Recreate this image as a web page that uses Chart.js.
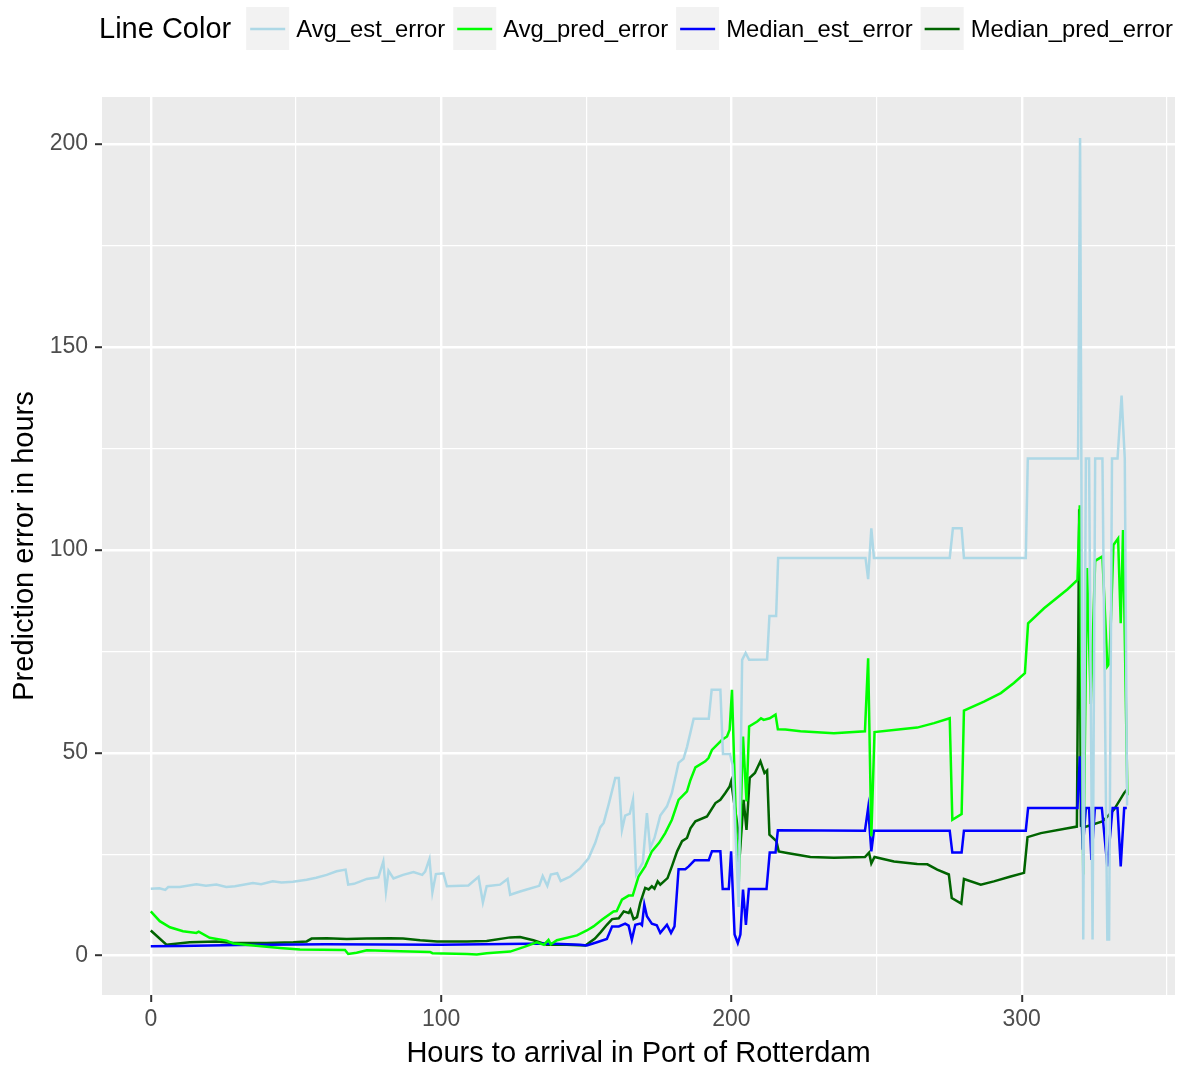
<!DOCTYPE html>
<html>
<head>
<meta charset="utf-8">
<script src="https://cdn.jsdelivr.net/npm/chart.js@4.4.1/dist/chart.umd.min.js"></script>
<style>
  html, body { margin:0; padding:0; background:#fff; }
  #wrap { width:1179px; height:1066px; position:relative; }
</style>
</head>
<body>
<div id="wrap"><canvas id="errChart"></canvas></div>
<script>
/* === DATA === */
const seriesNames = ["Avg_est_error", "Avg_pred_error", "Median_est_error", "Median_pred_error"];
const seriesColors = ["#add8e6", "#00ff00", "#0000ff", "#006400"];

const avgEstHours = [0,3,5,6,10,15.7,19,22.6,26,29,35.2,38,42,45,49,53.7,57,60.6,64,67.1,68,70,74.4,78.4,80.1,81,81.9,83.6,86.9,90.5,93.5,94.5,96,97,98.2,100.8,102,109.4,112.9,114.4,115.7,120.3,122.9,123.8,127.2,129.5,133.8,135,136.6,137.8,140,141.2,144.5,147.9,150.8,153.1,154.8,156,157.7,160,161.2,162.3,163.4,165,166.1,167.2,169.5,170.9,172,173.5,175.5,177.8,179.5,181.8,183.5,184.7,187,192.2,193.2,196.2,197.1,199.5,200.4,202.5,203.7,204.9,206.1,212.3,213.1,215.4,216.1,246.2,247.1,248.2,249.1,275.2,276.3,279.3,280.1,301.4,302.1,319.4,320.1,321.2,322.1,323.2,324.4,325.3,327.8,329.5,330.1,331.1,333,334.4,335.5,336.3];
const avgEstValues = [16.5,16.6,16.2,16.9,16.9,17.6,17.2,17.5,16.9,17.1,17.9,17.6,18.3,18.0,18.2,18.7,19.2,19.9,20.8,21.2,17.5,17.7,18.9,19.3,23.2,15.8,20.9,19.0,19.9,20.6,19.9,20.7,23.8,15.6,20.1,20.3,17.1,17.3,19.4,13.1,17.1,17.5,18.9,15.0,15.8,16.3,17.2,19.6,17.2,20.0,20.3,18.4,19.5,21.5,24.0,27.8,31.6,32.7,37.2,43.8,43.8,31.0,34.5,35.0,38.4,20.0,23.0,35.1,26.5,29.0,34.5,36.8,40.1,47.5,48.5,51.4,58.4,58.4,65.5,65.5,49.7,49.7,47.0,12.0,72.9,74.6,72.9,73.0,83.7,83.7,98,98,92.8,105.3,98,98,105.3,105.3,98,98,122.5,122.5,201.5,4,122.5,122.5,4,122.5,122.5,4,4,122.5,122.5,138,122.5,37];

const avgPredHours = [0,3.1,6.6,11.1,15.7,16.5,20.3,26.1,28.4,35.3,44.5,51.4,66.9,68,70.9,74.4,85.9,96.2,97,108.9,112.3,115.7,123.8,128.4,133,135.4,137,137.8,139.9,146.8,150.2,152.5,155.5,159.4,160.5,162.3,164.6,166,168,170.3,172.6,175.1,177.2,179.5,181.8,184.7,185.9,187.6,191,192.1,193.3,196.8,198.5,199.4,200.2,201.4,202.5,204,205.2,206.1,208.9,210.2,211.1,213.2,215.2,216,218.6,223.8,235.3,246,247.1,248.2,249.3,258.3,264,269.8,275.2,276.1,279.3,280.1,287,292.8,297.3,301.1,302.2,307.7,315.8,319.2,320,321.2,322.5,323.8,325.3,327.8,329.5,330.2,331.6,333.2,334.1,334.9,336.4];
const avgPredValues = [10.9,8.5,7.0,6.0,5.6,5.9,4.4,3.7,3.0,2.5,1.9,1.5,1.4,0.4,0.7,1.3,1.1,0.9,0.6,0.4,0.3,0.6,1.0,2.1,3.3,2.7,3.9,2.8,3.8,5.0,6.2,7.2,8.9,10.9,11.0,13.8,14.8,14.8,19.5,22.0,25.7,27.8,30.2,33.5,38.4,40.5,43.3,46.4,47.9,48.7,50.7,53.2,54.0,55.7,65.5,36.8,17.1,54.0,38.0,56.5,57.7,58.5,58.1,58.5,59.4,55.8,55.7,55.3,54.8,55.3,73.3,29.4,55.1,55.8,56.2,57.3,58.5,33.5,34.9,60.4,62.6,64.7,67.2,69.6,81.9,85.6,90.3,92.6,111,20,95.5,62,97.3,98.4,71.3,72,101.2,102.8,81.9,104.9,39.5];

const medEstHours = [0,10,30,60,100,136.8,147.9,150.2,153.7,157.1,158.9,161.2,163.4,164.6,165.7,166.9,168.6,169.2,170,170.9,172.6,174.3,175.5,177.8,179.2,180.4,181.8,184.1,185.3,187.3,192.2,193.3,196.2,197,199.1,199.9,201.1,202.2,203.1,204,205,206,212.1,213.2,215.2,216,246,247.1,248.2,249.1,275.2,276.1,279.3,280.1,301.4,302.2,319.2,320,321,322.1,323.2,324,325.2,327.6,329.5,331.3,333,334.1,335.3,336.2];
const medEstValues = [2.3,2.4,2.6,2.8,2.7,3.0,2.7,2.5,3.3,4.1,7.2,7.2,7.9,7.4,3.9,7.6,7.9,7.5,12.6,9.7,7.9,7.5,5.6,7.6,5.6,7.2,21.3,21.3,22.0,23.5,23.5,25.7,25.7,16.4,16.4,25.7,5.2,3.1,5.2,16.3,7.6,16.4,16.4,25.4,25.4,30.9,30.8,36.4,25.7,30.8,30.8,25.4,25.4,30.8,30.8,36.4,36.4,49.1,26.1,36.4,36.4,23.6,36.4,36.4,22,36.4,36.4,22,36.4,36.4];

const medPredHours = [0,5.4,13.4,22.6,28.4,39.9,49.1,53.7,55.4,60.6,67.5,74.4,82.4,86.9,92.8,98.6,108.9,115.7,123.8,127.2,131.8,136.4,143.3,149.7,153,155,157.1,158.9,161.2,162.9,164.6,165.2,166.3,167.5,168.6,170.3,171.5,172.6,173.5,174.6,175.5,178,179.5,181.3,183,184.7,185.9,187.6,191.6,194.5,196.2,197.9,199.4,199.9,203.1,204.2,205.2,206.3,208.1,210,211.4,212.3,213.1,215.5,216.3,219.2,227.2,235.3,246,247.4,248.2,249.3,256,264,267.5,270.9,274.9,275.9,279.2,280.1,285.9,290.4,296.2,300.8,302,306.6,315.8,319,319.8,320.4,322.1,327.8,329.6,331.8,335.3,336.2];
const medPredValues = [6.2,2.7,3.3,3.5,3.1,3.1,3.3,3.5,4.2,4.3,4.1,4.2,4.3,4.2,3.8,3.5,3.5,3.6,4.5,4.6,3.8,2.7,2.7,2.5,4.2,5.8,7.6,9.0,9.2,10.9,10.5,11.3,9.0,9.5,13.0,16.7,16.3,17.1,16.5,18.3,17.5,19.1,22.0,25.7,28.2,29.0,31.4,33.1,34.3,37.6,38.4,40.1,41.7,42.9,26.9,38.4,31.0,43.8,45.0,47.9,45.0,45.6,29.8,28.2,25.7,25.3,24.3,24.1,24.3,25.4,22.7,24.3,23.2,22.6,22.5,21.2,20.0,14.2,12.8,18.9,17.5,18.3,19.5,20.4,29.2,30.2,31.4,31.8,110,32,31.8,33.1,34.3,36.0,40.1,40.9];

const xMajorTicks = [0, 100, 200, 300];
const xMinorTicks = [50, 150, 250, 350];
const yMajorTicks = [0, 50, 100, 150, 200];
const yMinorTicks = [25, 75, 125, 175];

const FONT = '"Liberation Sans", Arial, sans-serif';

function toPoints(hours, values){
  return hours.map((h, i) => ({x: h, y: values[i]}));
}

const seriesData = [
  toPoints(avgEstHours, avgEstValues),
  toPoints(avgPredHours, avgPredValues),
  toPoints(medEstHours, medEstValues),
  toPoints(medPredHours, medPredValues)
];

/* === PLUGINS === */
const panelBg = {
  id: 'panelBg',
  beforeDraw(chart){
    const a = chart.chartArea, ctx = chart.ctx;
    ctx.save();
    ctx.fillStyle = '#ebebeb';
    ctx.fillRect(a.left, a.top, a.right - a.left, a.bottom - a.top);
    ctx.restore();
  }
};

const ggLegend = {
  id: 'ggLegend',
  afterDraw(chart){
    const ctx = chart.ctx;
    const cy = 29;
    ctx.save();
    ctx.textBaseline = 'middle';
    ctx.textAlign = 'left';
    ctx.fillStyle = '#000';
    ctx.font = '29px ' + FONT;
    let x = 99;
    ctx.fillText('Line Color', x, cy + 1);
    x += ctx.measureText('Line Color').width + 15;
    ctx.font = '23.8px ' + FONT;
    seriesNames.forEach((name, i) => {
      ctx.fillStyle = '#f2f2f2';
      ctx.fillRect(x, 7, 43, 43);
      ctx.strokeStyle = seriesColors[i];
      ctx.lineWidth = 2.5;
      ctx.beginPath(); ctx.moveTo(x + 4, cy); ctx.lineTo(x + 39, cy); ctx.stroke();
      ctx.fillStyle = '#000';
      ctx.fillText(name, x + 50, cy + 1);
      x += 50 + ctx.measureText(name).width + 8;
    });
    ctx.restore();
  }
};

function isMajor(list, v){ return list.indexOf(v) !== -1; }

/* === CHART === */
const ctx = document.getElementById('errChart').getContext('2d');
new Chart(ctx, {
  type: 'line',
  data: {
    datasets: seriesNames.map((name, i) => ({
      label: name,
      data: seriesData[i],
      borderColor: seriesColors[i],
      backgroundColor: seriesColors[i],
      borderWidth: 2.5,
      pointRadius: 0,
      fill: false,
      tension: 0
    }))
  },
  options: {
    responsive: true,
    maintainAspectRatio: false,
    animation: false,
    devicePixelRatio: 1,
    layout: { padding: { top: 97, right: 4, left: 0, bottom: 0 } },
    plugins: { legend: { display: false }, tooltip: { enabled: false } },
    scales: {
      x: {
        type: 'linear',
        min: -16.8, max: 352.8,
        afterBuildTicks: s => { s.ticks = xMajorTicks.concat(xMinorTicks).sort((a,b)=>a-b).map(v => ({value: v})); },
        afterFit: s => { s.height = 71; },
        border: { display: false },
        grid: {
          color: '#ffffff',
          lineWidth: c => isMajor(xMajorTicks, c.tick.value) ? 2.4 : 1.2,
          tickColor: c => isMajor(xMajorTicks, c.tick.value) ? '#333333' : 'rgba(0,0,0,0)',
          tickWidth: 2,
          tickLength: 7
        },
        ticks: {
          autoSkip: false, maxRotation: 0, padding: 4,
          color: '#4d4d4d',
          font: { family: FONT, size: 23 },
          callback: v => isMajor(xMajorTicks, v) ? String(v) : ''
        },
        title: {
          display: true,
          text: 'Hours to arrival in Port of Rotterdam',
          color: '#000',
          font: { family: FONT, size: 29, lineHeight: 1 },
          padding: { top: 0, bottom: -2 }
        }
      },
      y: {
        type: 'linear',
        min: -9.7, max: 211.6,
        afterBuildTicks: s => { s.ticks = yMajorTicks.concat(yMinorTicks).sort((a,b)=>a-b).map(v => ({value: v})); },
        afterFit: s => { s.width = 102; },
        border: { display: false },
        grid: {
          color: '#ffffff',
          lineWidth: c => isMajor(yMajorTicks, c.tick.value) ? 2.4 : 1.2,
          tickColor: c => isMajor(yMajorTicks, c.tick.value) ? '#333333' : 'rgba(0,0,0,0)',
          tickWidth: 2,
          tickLength: 7
        },
        ticks: {
          autoSkip: false, padding: 7,
          color: '#4d4d4d',
          font: { family: FONT, size: 23 },
          callback: v => isMajor(yMajorTicks, v) ? String(v) : ''
        },
        title: {
          display: true,
          text: 'Prediction error in hours',
          color: '#000',
          font: { family: FONT, size: 29, lineHeight: 1 },
          padding: { top: 10, bottom: 0 }
        }
      }
    }
  },
  plugins: [panelBg, ggLegend]
});
</script>
</body>
</html>
